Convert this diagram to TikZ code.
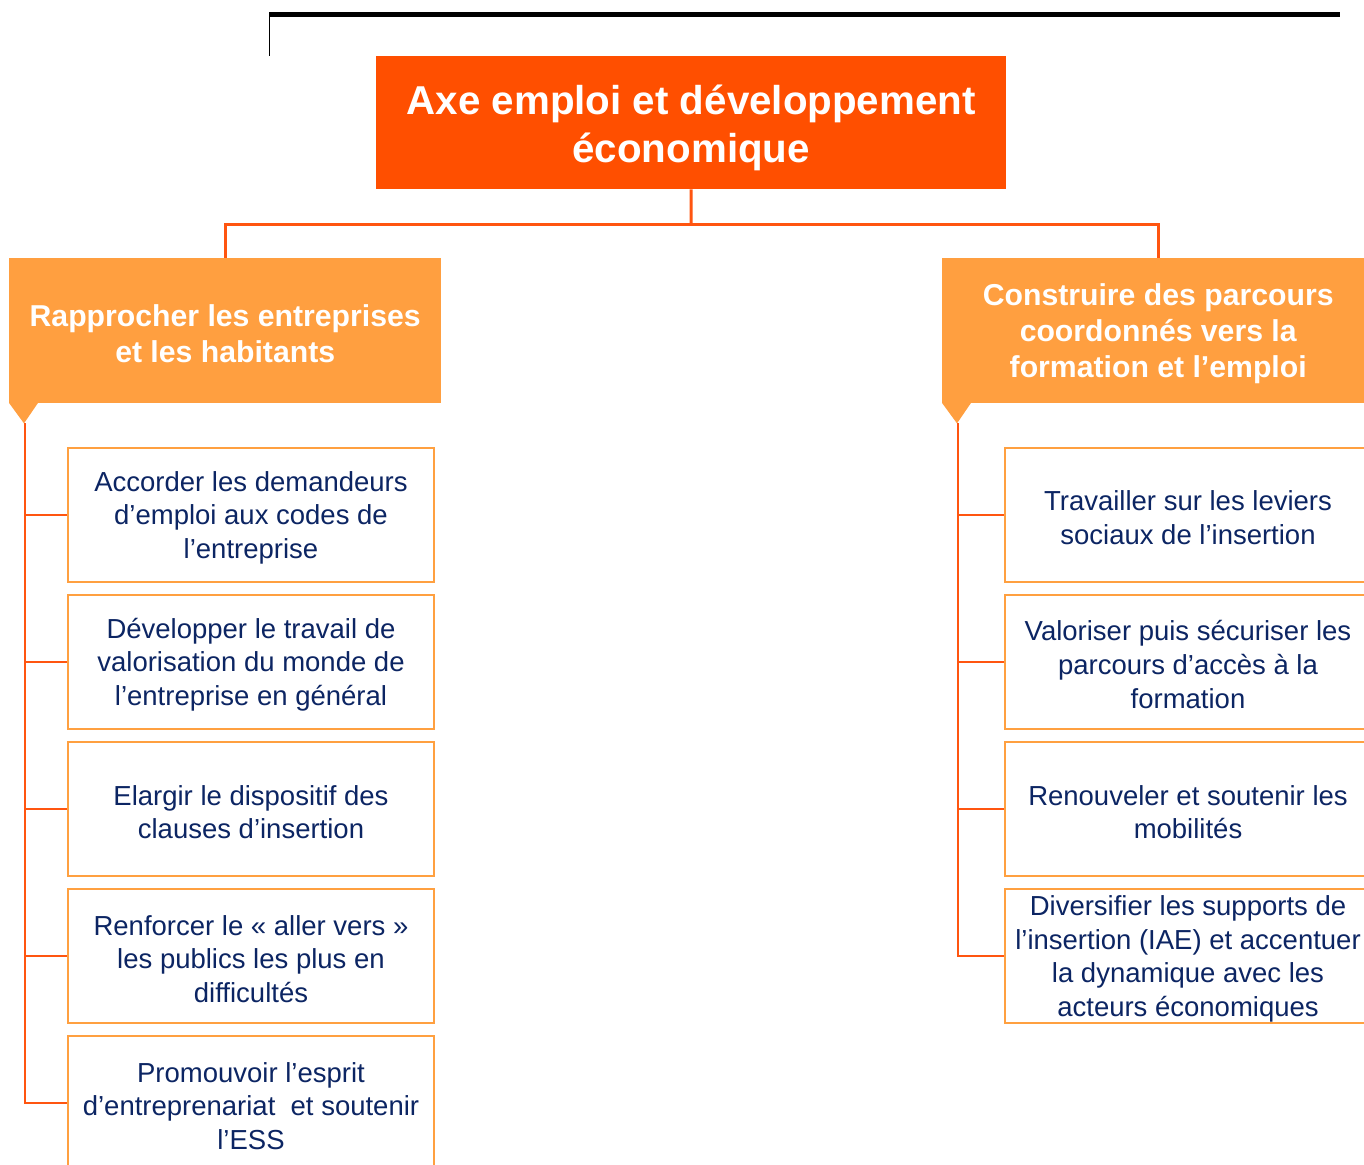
\documentclass[tikz,border=0pt]{standalone}
\usepackage{fontspec}
\setmainfont{Liberation Sans}
\definecolor{titleorange}{HTML}{FF4F00}
\definecolor{headorange}{HTML}{FF9F40}
\definecolor{lineorange}{HTML}{FF5510}
\definecolor{boxorange}{HTML}{FFA040}
\definecolor{navytext}{HTML}{0C2563}
\begin{document}
\begin{tikzpicture}[x=1pt,y=-1pt,
  titlebox/.style={fill=titleorange, minimum width=630pt, minimum height=133pt, inner sep=0pt, anchor=north west},
  titletext/.style={align=center, text=white, font=\fontsize{40.3}{48}\selectfont\bfseries, yshift=-5pt, inner sep=0pt},
  headbox/.style={fill=headorange, minimum width=432pt, minimum height=145pt, inner sep=0pt, anchor=north west},
  headtext/.style={align=center, text=white, font=\fontsize{30.2}{36}\selectfont\bfseries, yshift=-3pt, inner sep=0pt},
  itembox/.style={draw=boxorange, line width=2pt, fill=white, minimum width=366pt, minimum height=134pt, inner sep=0pt},
  itemtext/.style={align=center, text=navytext, font=\fontsize{27.5}{33.6}\selectfont, yshift=-3pt, inner sep=0pt},
  link/.style={draw=lineorange, line width=3pt},
  branch/.style={draw=lineorange, line width=2pt},
  tipfill/.style={fill=headorange}]
\useasboundingbox (0,0) rectangle (1364,1164);
\clip (0,0) rectangle (1364,1164);
\fill[white] (0,0) rectangle (1364,1164);
% top black frame lines
\draw[line width=5pt] (269,15) -- (1340,15);
\draw[line width=1.2pt] (269.6,12.5) -- (269.6,56);
% title
\node[titlebox, label={[titletext]center:{Axe emploi et développement\\économique}}] (title) at (376,56) {};
% headers
\node[headbox, label={[headtext]center:{Rapprocher les entreprises\\et les habitants}}] (hl) at (9,258) {};
\node[headbox, label={[headtext]center:{Construire des parcours\\coordonnés vers la\\formation et l’emploi}}] (hr) at (942,258) {};
\fill[tipfill] ([yshift=0.5pt]hl.south west) -- ++(29,0) -- ++(-14,20.5) -- cycle;
\fill[tipfill] ([yshift=0.5pt]hr.south west) -- ++(29,0) -- ++(-14,20.5) -- cycle;
\coordinate (ltip) at (25,423);
\coordinate (rtip) at (958,423);
% connectors from title
\coordinate (hub) at (691,224);
\draw[link] (title.south) -- (hub);
\draw[link] (hub) -| (hl.north);
\draw[link] (hub) -| (hr.north);
% left items
\node[itembox, label={[itemtext]center:{Accorder les demandeurs\\d’emploi aux codes de\\l’entreprise}}] (a1) at (251,514.5) {};
\node[itembox, label={[itemtext]center:{Développer le travail de\\valorisation du monde de\\l’entreprise en général}}] (a2) at (251,661.5) {};
\node[itembox, label={[itemtext]center:{Elargir le dispositif des\\clauses d’insertion}}] (a3) at (251,809) {};
\node[itembox, label={[itemtext]center:{Renforcer le « aller vers »\\les publics les plus en\\difficultés}}] (a4) at (251,956) {};
\node[itembox, label={[itemtext]center:{Promouvoir l’esprit\\d’entreprenariat\ \ et soutenir\\l’ESS}}] (a5) at (251,1103) {};
% right items
\node[itembox, label={[itemtext]center:{Travailler sur les leviers\\sociaux de l’insertion}}] (b1) at (1188,514.5) {};
\node[itembox, label={[itemtext]center:{Valoriser puis sécuriser les\\parcours d’accès à la\\formation}}] (b2) at (1188,661.5) {};
\node[itembox, label={[itemtext]center:{Renouveler et soutenir les\\mobilités}}] (b3) at (1188,809) {};
\node[itembox, label={[itemtext]center:{Diversifier les supports de\\l’insertion (IAE) et accentuer\\la dynamique avec les\\acteurs économiques}}] (b4) at (1188,956) {};
% branch lines
\draw[branch] (ltip) |- (a5.west);
\foreach \n in {a1,a2,a3,a4} \draw[branch] (ltip |- \n.west) -- (\n.west);
\draw[branch] (rtip) |- (b4.west);
\foreach \n in {b1,b2,b3} \draw[branch] (rtip |- \n.west) -- (\n.west);
\end{tikzpicture}
\end{document}
